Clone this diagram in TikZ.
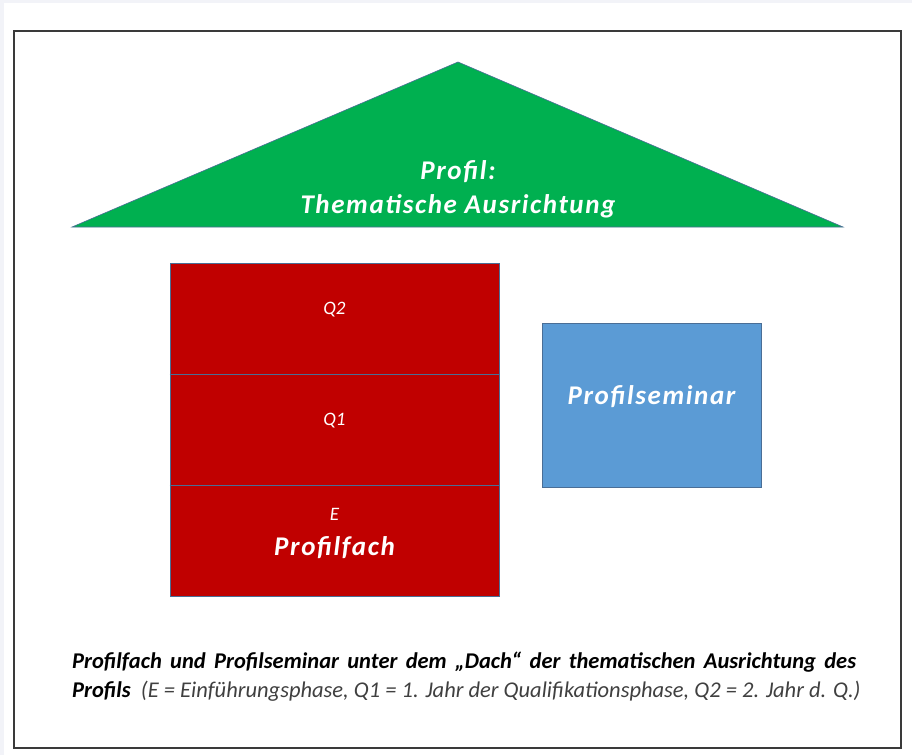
\documentclass[tikz,border=0pt]{standalone}
\usepackage{fontspec}
\setmainfont{Carlito}
\usetikzlibrary{positioning}
\definecolor{roofgreen}{HTML}{00B050}
\definecolor{phasered}{HTML}{C00000}
\definecolor{seminarblue}{HTML}{5B9BD5}
\definecolor{edgeblue}{HTML}{4A6E96}
\definecolor{pagegray}{HTML}{F2F3F8}
\definecolor{framegray}{HTML}{3A3A3A}
\definecolor{notegray}{HTML}{404040}

\begin{document}
\begin{tikzpicture} [x=1pt, y=-1pt, inner sep=0pt, align=center]

            \tikzstyle{phase} = [rectangle, draw=edgeblue, line width=1pt, fill=phasered,
                                 minimum width=329pt, minimum height=111pt]
            \tikzstyle{seminar} = [rectangle, draw=edgeblue, line width=0.8pt, fill=seminarblue,
                                   minimum width=219pt, minimum height=164pt]
            \tikzstyle{small} = [text=white, font=\fontsize{19}{22}\selectfont\itshape]
            \tikzstyle{big} = [text=white, font=\fontsize{27}{32}\selectfont\bfseries\itshape\addfontfeatures{LetterSpace=6}]
            \tikzstyle{note} = [anchor=base west, font=\fontsize{22.5}{26}\selectfont\bfseries\itshape]

            \fill[pagegray] (0,0) rectangle (912,755);
            \fill[white] (4,3) rectangle (912,755);
            \draw[framegray, line width=2pt] (14,31) rectangle (901,748);

            \filldraw[fill=roofgreen, draw=edgeblue, line width=0.6pt]
                (72,227) -- (458,62) -- (843,227) -- cycle;
            \node[big](roof) at(458, 189) {Profil:\\[2pt]Thematische Ausrichtung};

            \node[phase](q2) at(334.5, 318.5) {};
            \node[phase](q1) at(334.5, 429.5) {};
            \node[phase](e) at(334.5, 540.5) {};
            \draw[edgeblue, line width=1.2pt] (q2.south west) -- (q2.south east)
                (q1.south west) -- (q1.south east);
            \node[small](q2_label) at([yshift=9pt]q2.center) {Q2};
            \node[small](q1_label) at([yshift=9pt]q1.center) {Q1};
            \node[small](e_label) at(334.5, 514) {E};
            \node[big](fach) at(334.5, 548) {Profilfach};

            \node[seminar](seminar) at(651.5, 405) {};
            \node[big](seminar_label) at([yshift=8pt]seminar.center) {Profilseminar};

            \node[note](note_top) at(72, 668) {\makebox[784pt][s]{Profilfach und Profilseminar unter dem „Dach“ der thematischen Ausrichtung des}};
            \node[note](note_bottom) at(72, 697) {Profils\ \ {\mdseries\color{notegray}(E = Einführungsphase, Q1 = 1. Jahr der Qualifikationsphase, Q2 = 2. Jahr d. Q.)}};
       \end{tikzpicture}
\end{document}
